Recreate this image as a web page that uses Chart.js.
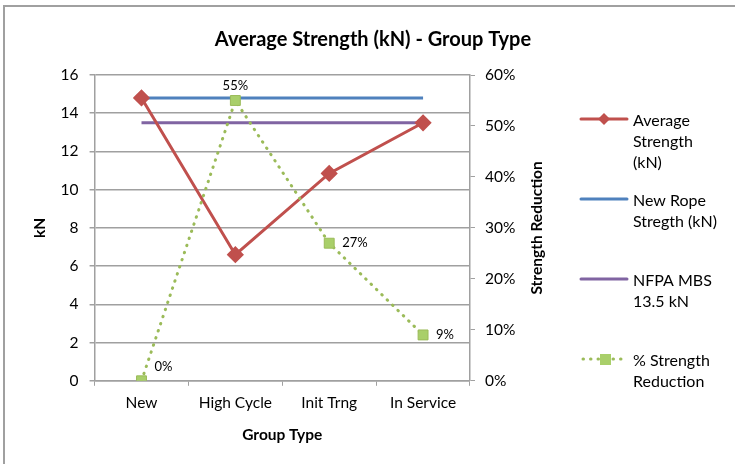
<!DOCTYPE html>
<html>
<head>
<meta charset="utf-8">
<script src="https://cdn.jsdelivr.net/npm/chart.js@4/dist/chart.umd.min.js"></script>
<style>
  html, body { margin: 0; padding: 0; background: #fff; }
  #wrap { width: 735px; height: 464px; position: relative; }
</style>
</head>
<body>
<div id="wrap"><canvas id="chart" width="735" height="464"></canvas></div>
<script>
const categories = ["New", "High Cycle", "Init Trng", "In Service"];
const avgStrength = [14.8, 6.6, 10.85, 13.5];
const newRopeStrength = [14.8, 14.8, 14.8, 14.8];
const nfpaMbs = [13.5, 13.5, 13.5, 13.5];
const pctReduction = [0, 55, 27, 9];
const pctLabels = ["0%", "55%", "27%", "9%"];

const legendItems = [
    { lines: ["Average", "Strength", "(kN)"], color: "#c0504d", kind: "diamond" },
    { lines: ["New Rope", "Stregth (kN)"], color: "#4f81bd", kind: "line" },
    { lines: ["NFPA MBS", "13.5 kN"], color: "#8064a2", kind: "line" },
    { lines: ["% Strength", "Reduction"], color: "#9bbb59", kind: "square" }
];

const FONT = "Lato, 'Open Sans', sans-serif";

// outer frame, title, point labels, right axis title and the legend
const extras = {
    id: 'extras',
    beforeDraw(chart) {
        const c = chart.ctx;
        c.save();
        c.strokeStyle = '#a0a0a0';
        c.lineWidth = 2;
        c.strokeRect(4, 6, 740, 470);
        c.fillStyle = '#000';
        c.font = "bold 20px " + FONT;
        c.textAlign = 'center';
        c.textBaseline = 'middle';
        c.fillText("Average Strength (kN) - Group Type", 373, 40);
        c.restore();
    },
    afterDatasetsDraw(chart) {
        const c = chart.ctx;
        c.save();
        c.font = "13px " + FONT;
        c.fillStyle = '#000';
        c.textBaseline = 'middle';
        const meta = chart.getDatasetMeta(3);
        meta.data.forEach((p, i) => {
            if (i === 1) {
                c.textAlign = 'center';
                c.fillText(pctLabels[i], p.x, p.y - 15);
            } else {
                c.textAlign = 'left';
                c.fillText(pctLabels[i], p.x + 13, p.y - (i === 0 ? 14 : 0));
            }
        });
        c.restore();
    },
    afterDraw(chart) {
        const c = chart.ctx;
        const area = chart.chartArea;
        c.save();
        c.fillStyle = '#000';
        c.font = "bold 15.5px " + FONT;
        c.textAlign = 'center';
        c.textBaseline = 'middle';
        c.translate(537, (area.top + area.bottom) / 2);
        c.rotate(-Math.PI / 2);
        c.fillText("Strength Reduction", 0, 0);
        c.restore();

        c.save();
        c.font = "16px " + FONT;
        c.textAlign = 'left';
        c.textBaseline = 'middle';
        const tops = [119, 199, 279, 359];
        legendItems.forEach((it, k) => {
            const y = tops[k];
            const x0 = 581, x1 = 627;
            c.strokeStyle = it.color;
            c.fillStyle = it.color;
            if (it.kind === 'square') {
                c.lineWidth = 3;
                c.lineCap = 'round';
                c.setLineDash([0.5, 7]);
                c.beginPath(); c.moveTo(x0 + 2, y); c.lineTo(x1, y); c.stroke();
                c.setLineDash([]);
                c.fillStyle = '#a9cf6a';
                c.fillRect(x0 + 19, y - 5, 11, 11);
            } else {
                c.lineWidth = 3;
                c.lineCap = 'round';
                c.beginPath(); c.moveTo(x0, y); c.lineTo(x1, y); c.stroke();
                if (it.kind === 'diamond') {
                    c.beginPath();
                    c.moveTo(x0 + 23, y - 6); c.lineTo(x0 + 29, y);
                    c.lineTo(x0 + 23, y + 6); c.lineTo(x0 + 17, y);
                    c.closePath(); c.fill();
                }
            }
            c.fillStyle = '#000';
            it.lines.forEach((t, j) => c.fillText(t, 633, y + 2 + j * 21));
        });
        c.restore();
    }
};

new Chart(document.getElementById('chart'), {
    type: 'line',
    data: {
        labels: categories,
        datasets: [
            {
                label: "Average Strength (kN)", data: avgStrength, yAxisID: 'y',
                borderColor: "#c0504d", backgroundColor: "#c0504d", borderWidth: 3,
                pointStyle: 'rectRot', pointRadius: 6.5, pointHoverRadius: 6.5, order: 2
            },
            {
                label: "New Rope Stregth (kN)", data: newRopeStrength, yAxisID: 'y',
                borderColor: "#4f81bd", backgroundColor: "#4f81bd", borderWidth: 3,
                pointRadius: 0, order: 3
            },
            {
                label: "NFPA MBS 13.5 kN", data: nfpaMbs, yAxisID: 'y',
                borderColor: "#8064a2", backgroundColor: "#8064a2", borderWidth: 3,
                pointRadius: 0, order: 4
            },
            {
                label: "% Strength Reduction", data: pctReduction, yAxisID: 'y1',
                borderColor: "#9bbb59", backgroundColor: "#a9cf6a", borderWidth: 3,
                borderDash: [0.5, 7], borderCapStyle: 'round',
                pointStyle: 'rect', pointRadius: 7, pointHoverRadius: 7,
                pointBorderColor: "#9bbb59", pointBorderWidth: 1, order: 1
            }
        ]
    },
    options: {
        responsive: false,
        animation: false,
        layout: { padding: { left: 31, right: 179, top: 75, bottom: 16 } },
        plugins: {
            legend: { display: false },
            tooltip: { enabled: false },
            title: { display: false }
        },
        scales: {
            x: {
                offset: true,
                grid: { display: true, drawOnChartArea: false, offset: true, color: '#a0a0a0', tickLength: 5 },
                border: { color: '#a0a0a0', width: 1.5 },
                ticks: { color: '#000', font: { family: FONT, size: 15.5 }, padding: 8 },
                title: { display: true, text: "Group Type", color: '#000', font: { family: FONT, size: 15.5, weight: 'bold' }, padding: { top: 5 } }
            },
            y: {
                position: 'left',
                min: 0, max: 16,
                ticks: { stepSize: 2, color: '#000', font: { family: FONT, size: 15.5 }, padding: 11 },
                grid: { color: '#a0a0a0', lineWidth: 1.5, tickLength: 5 },
                border: { color: '#a0a0a0', width: 1.5 },
                title: { display: true, text: "kN", color: '#000', font: { family: FONT, size: 15.5, weight: 'bold' }, padding: { top: 0, bottom: 0 } }
            },
            y1: {
                position: 'right',
                min: 0, max: 60,
                ticks: { stepSize: 10, color: '#000', font: { family: FONT, size: 15.5 }, padding: 10,
                    callback: v => v + '%' },
                grid: { drawOnChartArea: false, color: '#a0a0a0', tickLength: 5 },
                border: { color: '#a0a0a0', width: 1.5 },
                title: { display: true, text: "Strength Reduction", color: 'rgba(0,0,0,0)', font: { family: FONT, size: 15.5, weight: 'bold' }, padding: { top: 8 } }
            }
        }
    },
    plugins: [extras]
});
</script>
</body>
</html>
